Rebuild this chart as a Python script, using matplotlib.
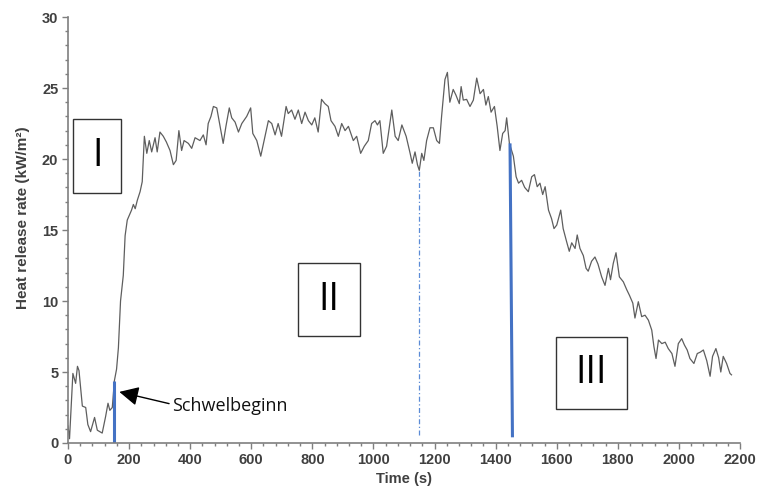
import matplotlib.pyplot as plt
from matplotlib.patches import Rectangle

# heat release rate curve
time_s = [0, 5, 16, 25, 31, 36, 47, 58, 65, 74, 87, 96, 112, 123, 131, 137, 145, 152, 159, 165,
          172, 181, 187, 194, 208, 214, 220, 227, 236, 243, 250, 258, 266, 274, 285, 292, 301, 312,
          322, 334, 345, 354, 363, 372, 380, 394, 405, 416, 432, 443, 452, 459, 468, 476, 487, 498,
          508, 517, 528, 536, 547, 558, 569, 585, 598, 605, 618, 631, 645, 656, 667, 678, 688, 699,
          714, 721, 732, 743, 754, 765, 776, 787, 798, 808, 819, 830, 841, 852, 861, 874, 885, 896,
          907, 918, 934, 945, 958, 970, 983, 994, 1005, 1013, 1021, 1032, 1043, 1060, 1071, 1081,
          1093, 1107, 1120, 1127, 1136, 1144, 1150, 1158, 1165, 1174, 1185, 1196, 1207, 1216, 1223,
          1234, 1242, 1250, 1261, 1270, 1281, 1287, 1294, 1305, 1316, 1327, 1338, 1349, 1360, 1368,
          1376, 1385, 1396, 1405, 1414, 1423, 1431, 1436, 1445, 1458, 1467, 1475, 1485, 1495, 1507,
          1518, 1527, 1536, 1545, 1554, 1562, 1573, 1583, 1591, 1600, 1613, 1621, 1632, 1641, 1649,
          1660, 1667, 1676, 1687, 1696, 1703, 1714, 1725, 1735, 1747, 1758, 1769, 1776, 1785, 1794,
          1805, 1818, 1829, 1838, 1849, 1856, 1867, 1878, 1889, 1900, 1911, 1918, 1925, 1933, 1944,
          1955, 1965, 1977, 1987, 1998, 2009, 2018, 2027, 2036, 2049, 2060, 2070, 2080, 2091, 2102,
          2110, 2121, 2130, 2137, 2145, 2156, 2167, 2172]
hrr = [1.2, 0.3, 4.9, 4.2, 5.4, 5.1, 2.6, 2.5, 1.3, 0.8, 1.8, 0.9, 0.7, 1.85, 2.8, 2.3, 2.5, 4.4, 5.2, 6.7,
       10.0, 11.8, 14.6, 15.7, 16.4, 16.8, 16.5, 17.1, 17.7, 18.4, 21.6, 20.4, 21.3, 20.5, 21.5, 20.5, 21.9, 21.6,
       21.2, 20.6, 19.6, 19.9, 22.0, 20.6, 21.3, 21.1, 20.75, 21.5, 21.3, 21.7, 21.0, 22.5, 23.0, 23.7, 23.6, 22.3,
       21.1, 22.3, 23.6, 22.9, 22.6, 21.9, 22.5, 23.0, 23.6, 21.8, 21.3, 20.2, 21.6, 22.7, 22.5, 21.7, 22.5, 21.6,
       23.7, 23.2, 23.45, 22.8, 23.45, 22.5, 23.3, 22.7, 22.4, 22.9, 21.9, 24.2, 23.9, 23.7, 22.7, 22.3, 21.6, 22.5,
       22.0, 22.3, 21.3, 21.6, 20.4, 20.9, 21.3, 22.5, 22.7, 22.4, 22.7, 20.4, 20.9, 23.45, 21.6, 21.3,
       22.4, 21.6, 20.4, 19.7, 20.5, 19.6, 19.2, 20.4, 19.9, 21.3, 22.2, 22.2, 21.3, 21.1, 23.0,
       25.6, 26.1, 24.0, 24.9, 24.5, 23.9, 25.1, 24.15, 24.2, 23.7, 24.15, 25.7, 24.6, 24.9, 23.8,
       24.4, 23.3, 23.7, 22.3, 20.6, 21.8, 22.0, 22.9, 21.1, 20.2, 18.75, 18.3, 18.5, 18.0, 17.7,
       18.75, 18.9, 18.05, 18.3, 17.5, 18.05, 16.4, 15.8, 15.1, 15.35, 16.4, 15.1, 14.2, 13.5, 14.1,
       13.7, 14.65, 13.7, 13.2, 12.3, 12.1, 12.8, 13.1, 12.6, 11.7, 11.1, 12.3, 11.5, 12.65, 13.4,
       11.7, 11.35, 10.8, 10.4, 9.85, 8.8, 9.95, 8.9, 9.0, 8.65, 7.95, 6.8, 5.95, 7.25, 7.0,
       7.1, 6.65, 6.3, 5.4, 7.0, 7.35, 6.9, 6.55, 5.95, 5.6, 6.3, 6.4, 6.55, 5.8, 4.7,
       6.1, 6.65, 6.0, 5.0, 6.1, 5.6, 4.9, 4.8]

# phase markers: (time bottom, time top, hrr top)
smoulder_start = [150, 150, 4.4]
phase_end = [1455, 1447, 21.1]
mid_time = 1150
mid_top = 19.2

# phase boxes: label, t0, t1, y0, y1
phase_labels = ['I', 'II', 'III']
box_t = [(17, 175), (752, 956), (1598, 1830)]
box_y = [(17.6, 22.8), (7.55, 12.65), (2.37, 7.49)]

blue = '#4472C4'
axis_grey = '#7f7f7f'
label_col = '#404040'

fig = plt.figure(figsize=(7.58, 4.92), dpi=100)
ax = fig.add_axes([0.0897, 0.0996, 0.8866, 0.8658])

ax.plot(time_s, hrr, color='#5e5e5e', linewidth=0.9)

# vertical markers
ax.plot([smoulder_start[0], smoulder_start[1]], [0, smoulder_start[2]], color=blue, linewidth=2.2, solid_capstyle='butt')
ax.plot([phase_end[0], phase_end[1]], [0.4, phase_end[2]], color=blue, linewidth=2.2, solid_capstyle='butt')
ax.plot([mid_time, mid_time], [0.55, mid_top], color='#5b8bd6', linewidth=0.9, linestyle=(0, (4, 2, 1, 2)))

# boxes with roman numerals
for lab, (t0, t1), (y0, y1) in zip(phase_labels, box_t, box_y):
    ax.add_patch(Rectangle((t0, y0), t1 - t0, y1 - y0, fill=False, edgecolor='#333333', linewidth=1.0, clip_on=False, zorder=4))
    ax.text((t0 + t1) / 2, (y0 + y1) / 2, lab, ha='center', va='center', fontsize=27, family='Open Sans', color='black')

ax.annotate('Schwelbeginn', xy=(168, 3.6), xytext=(340, 2.6), fontsize=13, family='Open Sans', color='#111111',
            va='center', ha='left',
            arrowprops=dict(arrowstyle='-|>,head_length=0.9,head_width=0.45', color='black', linewidth=1.0,
                            shrinkA=0, shrinkB=0, relpos=(0, 0.6)))

ax.set_xlim(0, 2200)
ax.set_ylim(0, 30)
ax.set_xticks(range(0, 2201, 200))
ax.set_xticks(range(0, 2201, 40), minor=True)
ax.set_yticks(range(0, 31, 5))
ax.set_yticks(range(0, 31, 1), minor=True)

for s in ['top', 'right']:
    ax.spines[s].set_visible(False)
for s in ['left', 'bottom']:
    ax.spines[s].set_color(axis_grey)
    ax.spines[s].set_linewidth(1.2)

ax.tick_params(which='major', direction='out', length=4, width=1, color=axis_grey, labelcolor=label_col, labelsize=10.5, pad=3)
ax.tick_params(which='minor', direction='out', length=2.5, width=1, color=axis_grey)
for lbl in ax.get_xticklabels() + ax.get_yticklabels():
    lbl.set_fontweight('bold')
    lbl.set_family('Liberation Sans')

ax.set_xlabel('Time (s)', fontsize=10.5, fontweight='bold', family='Liberation Sans', color=label_col, labelpad=4)
ax.set_ylabel('Heat release rate (kW/m²)', fontsize=11, fontweight='bold', family='Liberation Sans', color=label_col)
ax.yaxis.set_label_coords(-0.056, 0.53)

fig.savefig('out.png', dpi=100, facecolor='white')
